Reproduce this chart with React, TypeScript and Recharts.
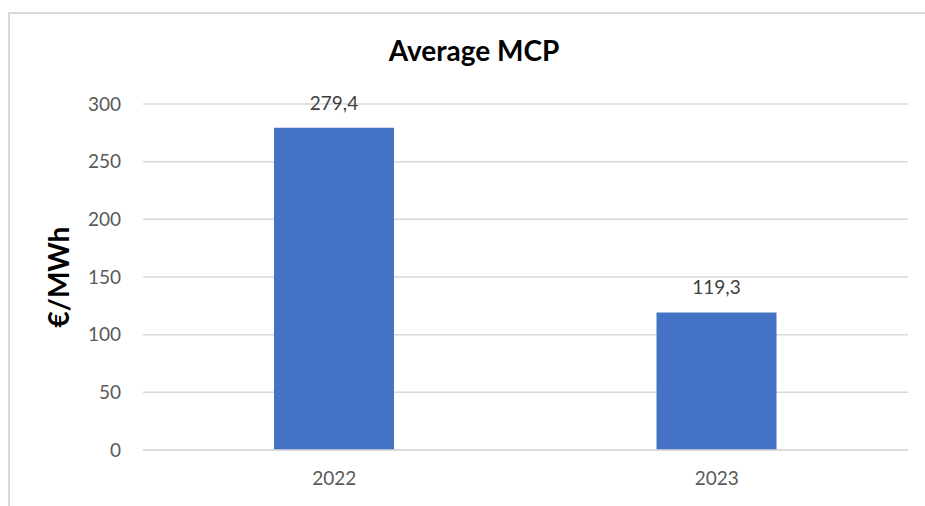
import { BarChart, Bar, XAxis, YAxis, CartesianGrid, LabelList, Label } from 'recharts'

const years = ['2022', '2023']
const avgMcp = [279.4, 119.3]
const yTicks = [0, 50, 100, 150, 200, 250, 300]

const data = years.map((y, i) => ({ year: y, mcp: avgMcp[i] }))

const FONT = 'Lato, "Open Sans", sans-serif'
const GRAY = '#595959'
const GRID = '#d9d9d9'

export default function App() {
  return (
    <div style={{ position: 'fixed', left: 8, top: 12, width: 917, height: 494, overflow: 'hidden', background: '#fff' }}>
      <style>{'html,body{overflow:hidden;scrollbar-width:none;background:#fff}'}</style>
      <div style={{ position: 'absolute', left: 0, top: 0, width: 960, height: 510, borderTop: `2px solid ${GRID}`, borderLeft: `2px solid ${GRID}`, boxSizing: 'border-box', background: '#fff', fontFamily: FONT }}>
        <div style={{ position: 'absolute', top: 19, left: 0, width: 928, textAlign: 'center', fontSize: 28, fontWeight: 700, color: '#000', lineHeight: 'normal' }}>
          Average MCP
        </div>
        <BarChart
          width={936}
          height={496}
          data={data}
          margin={{ top: 90, right: 38, left: 0, bottom: 16 }}
          barSize={120}
        >
          <CartesianGrid vertical={false} stroke={GRID} strokeWidth={1.5} />
          <XAxis
            dataKey="year"
            axisLine={{ stroke: GRID, strokeWidth: 1.5 }}
            tickLine={false}
            tick={{ fill: GRAY, fontSize: 19, fontFamily: FONT }}
            tickMargin={16}
            height={44}
          />
          <YAxis
            domain={[0, 300]}
            ticks={yTicks}
            axisLine={false}
            tickLine={false}
            tick={{ fill: GRAY, fontSize: 19, fontFamily: FONT }}
            tickMargin={16}
            width={133}
          >
            <Label
              value="€/MWh"
              angle={-90}
              position="insideLeft"
              offset={49}
              style={{ fill: '#000', fontSize: 28, fontWeight: 700, fontFamily: FONT, textAnchor: 'middle' }}
            />
          </YAxis>
          <Bar dataKey="mcp" fill="#4472C4" isAnimationActive={false}>
            <LabelList
              dataKey="mcp"
              position="top"
              offset={18}
              formatter={(v: number) => v.toFixed(1).replace('.', ',')}
              style={{ fill: '#404040', fontSize: 19, fontFamily: FONT }}
            />
          </Bar>
        </BarChart>
      </div>
    </div>
  )
}
